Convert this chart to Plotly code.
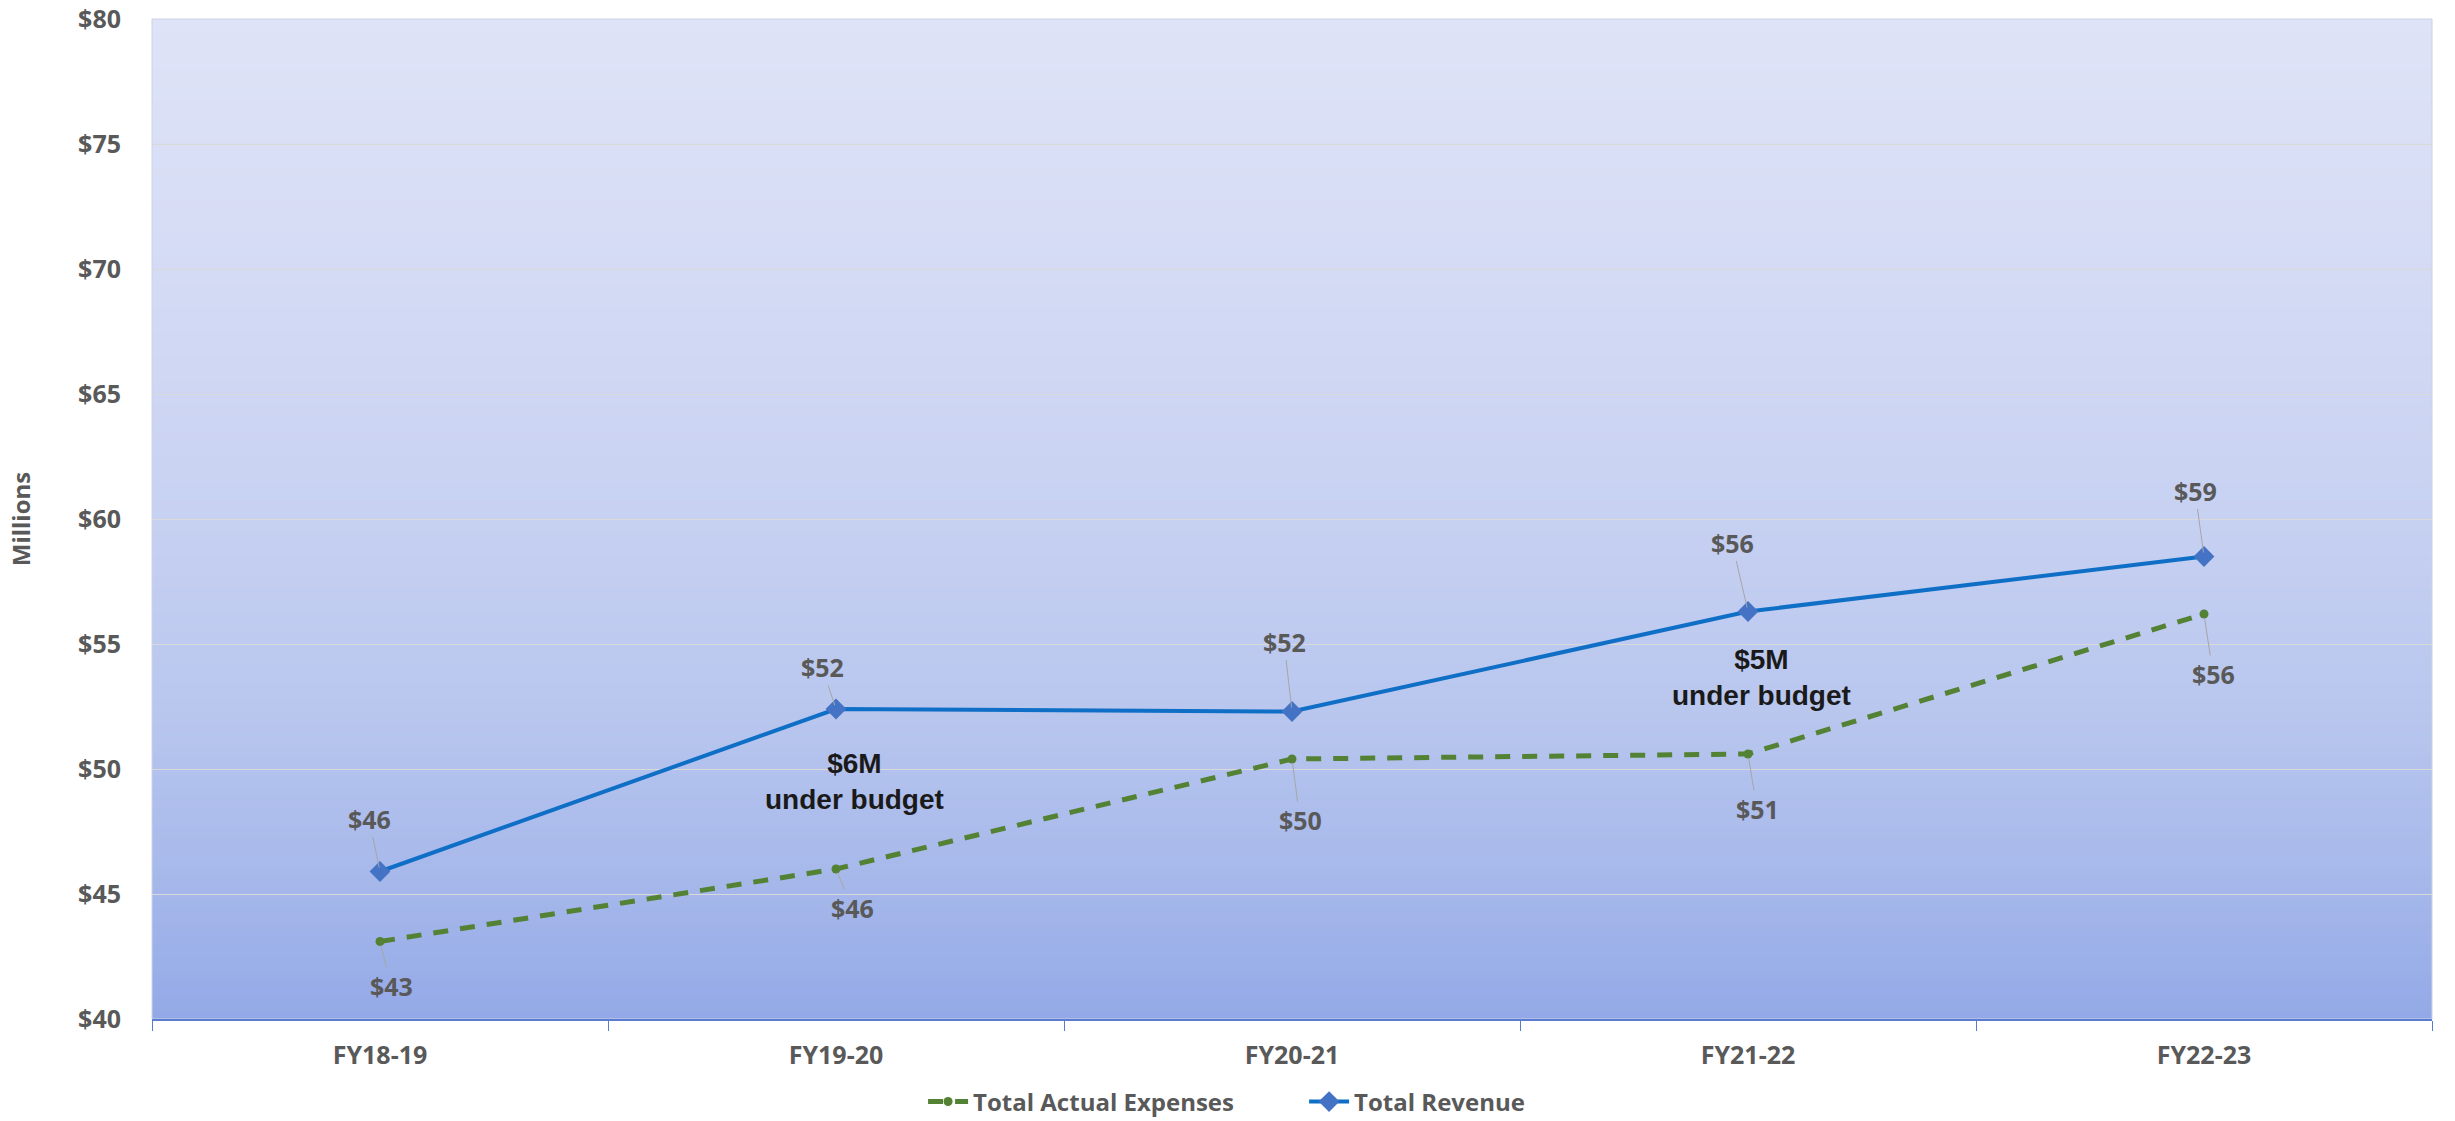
import plotly.graph_objects as go

# ---- data ----
categories = ["FY18-19", "FY19-20", "FY20-21", "FY21-22", "FY22-23"]
revenue = [45.9, 52.4, 52.3, 56.3, 58.5]
expenses = [43.1, 46.0, 50.4, 50.6, 56.2]
revenue_labels = ["$46", "$52", "$52", "$56", "$59"]
expense_labels = ["$43", "$46", "$50", "$51", "$56"]
notes = ["$6M<br>under budget", "$5M<br>under budget"]
note_cats = [1.04, 3.03]
note_vals = [49.5, 53.65]
y_ticks = [40, 45, 50, 55, 60, 65, 70, 75, 80]
y_tick_text = ["$40", "$45", "$50", "$55", "$60", "$65", "$70", "$75", "$80"]

# ---- styling / layout constants ----
GREY = "#595959"
FONT = "Open Sans"
rev_offsets = [(-11, -53), (-14, -42), (-8, -70), (-16, -69), (-9, -66)]
exp_offsets = [(11, 44), (16, 39), (8, 61), (9, 55), (9, 60)]

fig = go.Figure()

fig.add_trace(go.Scatter(
    x=categories, y=expenses, name="<b>Total Actual Expenses</b>", mode="lines+markers",
    line=dict(color="#548235", width=5, dash="15px,12px"),
    marker=dict(symbol="circle", size=9, color="#548235"),
    hoverinfo="skip",
))
fig.add_trace(go.Scatter(
    x=categories, y=revenue, name="<b>Total Revenue</b>", mode="lines+markers",
    line=dict(color="#0F6FC6", width=4),
    marker=dict(symbol="diamond", size=16, color="#4472C4"),
    hoverinfo="skip",
))

# gradient background bands
stops = [(0.0, (147, 169, 231)), (0.12, (164, 182, 234)), (0.3, (184, 198, 238)),
         (0.55, (202, 211, 242)), (0.8, (215, 221, 245)), (1.0, (222, 227, 247))]


def col_at(t):
    for (t0, c0), (t1, c1) in zip(stops[:-1], stops[1:]):
        if t0 <= t <= t1:
            f = (t - t0) / (t1 - t0)
            return "rgb(%d,%d,%d)" % tuple(round(a + (b - a) * f) for a, b in zip(c0, c1))
    return "rgb(%d,%d,%d)" % stops[-1][1]


N = 160
shapes = []
for i in range(N):
    y0 = i / N
    y1 = (i + 1) / N + 0.002
    shapes.append(dict(type="rect", xref="x domain", yref="y domain", x0=0, x1=1,
                       y0=y0, y1=min(y1, 1), fillcolor=col_at((i + 0.5) / N),
                       line=dict(width=0), layer="below"))
shapes.append(dict(type="rect", xref="x domain", yref="y domain", x0=0, x1=1, y0=0, y1=1,
                   line=dict(color="#CDD2E3", width=1), fillcolor="rgba(0,0,0,0)", layer="below"))

annotations = []
lab_font = dict(family=FONT, size=25, color=GREY)
for c, v, t, (ax, ay) in zip(categories, revenue, revenue_labels, rev_offsets):
    annotations.append(dict(x=c, y=v, text="<b>" + t + "</b>", showarrow=True, arrowhead=0,
                            arrowwidth=1, arrowcolor="#A6A6A6", ax=ax, ay=ay, standoff=4,
                            font=lab_font))
for c, v, t, (ax, ay) in zip(categories, expenses, expense_labels, exp_offsets):
    annotations.append(dict(x=c, y=v, text="<b>" + t + "</b>", showarrow=True, arrowhead=0,
                            arrowwidth=1, arrowcolor="#A6A6A6", ax=ax, ay=ay, standoff=4,
                            font=lab_font))
for t, xc, yv in zip(notes, note_cats, note_vals):
    annotations.append(dict(x=xc, y=yv, text="<b>" + t + "</b>", showarrow=False,
                            font=dict(family="Liberation Sans, Arial", size=28, color="#1A1A1A")))

fig.update_layout(
    width=2455, height=1121,
    margin=dict(l=152, r=23, t=19, b=102),
    paper_bgcolor="white", plot_bgcolor="#DEE3F6",
    font=dict(family=FONT, size=25, color=GREY),
    shapes=shapes, annotations=annotations,
    showlegend=True,
    legend=dict(orientation="h", xref="container", yref="container", x=0.376, y=0.017,
                xanchor="left", yanchor="middle",
                font=dict(family=FONT, size=24, color=GREY),
                itemwidth=40, entrywidth=326, entrywidthmode="pixels",
                bgcolor="rgba(0,0,0,0)"),
    xaxis=dict(type="category", range=[-0.5, 4.5], tickson="boundaries", ticks="outside",
               ticklen=10, tickcolor="#5B7BD0", showline=True, linecolor="#5B7BD0", linewidth=1.5,
               showgrid=False, ticklabelstandoff=13, automargin=False,
               tickvals=categories, ticktext=["<b>" + c + "</b>" for c in categories],
               tickfont=dict(family=FONT, size=25, color=GREY)),
    yaxis=dict(range=[40, 80], tickvals=y_ticks, ticktext=["<b>" + s + "</b>" for s in y_tick_text],
               showline=False, ticks="",
               showgrid=True, gridcolor="#D9D9D9", gridwidth=1, zeroline=False,
               ticklabelstandoff=30, automargin=False,
               tickfont=dict(family=FONT, size=25, color=GREY),
               title=dict(text="<b>Millions</b>", standoff=40,
                          font=dict(family=FONT, size=24, color=GREY))),
)

fig.write_html("out.html")
